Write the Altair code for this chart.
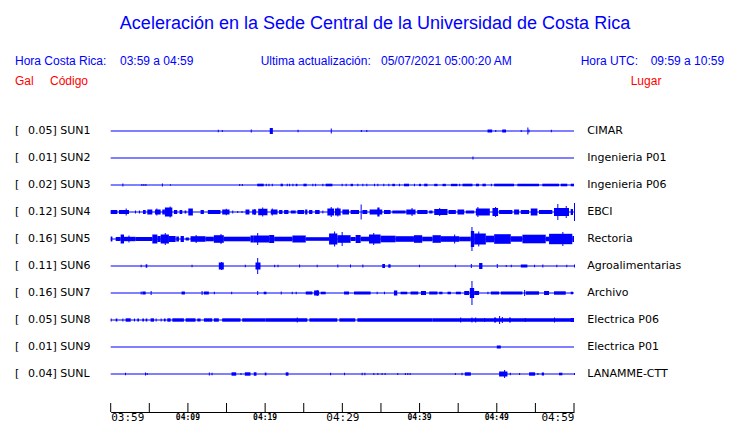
import altair as alt
import pandas as pd

# ---------------- data ----------------
codes = ["SUN1", "SUN2", "SUN3", "SUN4", "SUN5", "SUN6", "SUN7", "SUN8", "SUN9", "SUNL"]
places = ["CIMAR", "Ingenieria P01", "Ingenieria P06", "EBCI", "Rectoria",
          "Agroalimentarias", "Archivo", "Electrica P06", "Electrica P01", "LANAMME-CTT"]
peak_gal = ["0.05", "0.01", "0.02", "0.12", "0.16", "0.11", "0.16", "0.05", "0.01", "0.04"]

tick_minutes = [0, 5, 10, 15, 20, 25, 30, 35, 40, 45, 50, 55, 60]
tick_labels = ["03:59", "", "04:09", "", "04:19", "", "04:29", "", "04:39", "", "04:49", "", "04:59"]

# envelope segments: (start minute, end minute, half amplitude in px)
sun1 = [(13.87, 13.87, 1.2), (14.39, 14.39, 1.0), (18.14, 18.14, 1.5), (20.6, 21.0, 3.0),
        (24.2, 24.2, 1.2), (28.5, 28.5, 2.5), (32.4, 32.4, 1.0), (33.1, 33.1, 1.0),
        (48.8, 49.4, 1.5), (49.8, 49.8, 1.0), (50.7, 51.2, 1.5), (53.1, 53.1, 1.0),
        (53.96, 53.96, 3.6), (54.1, 54.1, 1.5), (57.0, 57.0, 1.2)]
sun2 = [(46.85, 46.85, 1.5)]
sun3 = [(1.51, 1.51, 1.5), (3.97, 3.97, 1.0), (4.23, 4.23, 1.0), (4.49, 4.49, 1.0), (6.63, 6.63, 1.5),
        (7.67, 7.67, 0.8), (16.64, 16.64, 1.0), (16.98, 16.98, 1.0), (18.97, 19.82, 1.3),
        (20.08, 20.08, 1.2), (20.43, 20.43, 1.2), (20.86, 20.86, 1.2), (22.0, 22.3, 1.3),
        (22.8, 22.8, 1.2), (23.1, 23.1, 1.2), (23.53, 23.53, 1.2), (23.96, 24.18, 1.2),
        (24.96, 25.38, 1.3), (26.12, 26.12, 1.2), (26.47, 26.47, 1.2), (27.41, 27.41, 1.2),
        (27.84, 28.71, 1.3), (29.91, 29.91, 1.2), (30.43, 30.43, 1.2), (31.07, 31.38, 1.2),
        (31.94, 31.94, 1.2), (32.59, 32.59, 1.2), (33.10, 33.10, 1.2), (34.10, 34.10, 1.2),
        (34.53, 34.53, 1.2), (35.30, 35.30, 1.2), (35.95, 35.95, 1.2), (36.47, 36.81, 1.2),
        (37.33, 37.33, 1.2), (37.98, 38.63, 1.3), (39.27, 39.27, 1.2), (39.92, 40.18, 1.2),
        (40.60, 41.03, 1.3), (41.90, 42.32, 1.2), (42.97, 43.41, 1.2), (44.06, 44.91, 1.2),
        (45.13, 45.13, 1.2), (45.56, 46.85, 1.3), (47.29, 47.71, 1.3), (48.14, 48.58, 1.3),
        (49.23, 49.23, 1.2), (49.66, 52.24, 1.3), (52.67, 55.47, 1.3), (55.90, 58.06, 1.3),
        (58.28, 59.13, 1.3), (59.57, 60.0, 1.3)]
sun4 = [(0, 0.86, 2), (1.07, 2.37, 2), (1.94, 1.94, 3.5), (3.14, 3.14, 1.5), (3.66, 3.66, 1.5),
        (4.18, 4.53, 2), (4.74, 5.39, 2.5), (5.73, 6.47, 2.5), (5.91, 5.91, 3.5), (6.68, 7.02, 2.5),
        (7.02, 7.98, 4.5), (7.63, 7.63, 5.5), (8.19, 8.62, 2), (8.92, 9.27, 2), (9.57, 9.79, 1.5),
        (10.05, 10.64, 3.5), (11.64, 12.07, 2), (12.58, 14.22, 2), (14.44, 15.39, 2.5),
        (14.9, 14.9, 3.2), (15.74, 15.74, 1.5), (16.38, 16.38, 1), (16.94, 16.94, 1),
        (17.46, 17.97, 2.5), (18.32, 18.84, 2.5), (18.6, 18.6, 3), (19.10, 20.30, 3.2),
        (19.62, 19.62, 4.5), (20.73, 21.60, 2.5), (20.86, 20.86, 3.5), (21.81, 22.24, 2),
        (22.46, 23.02, 2), (23.32, 23.96, 1.5), (24.18, 25.05, 2), (25.18, 25.47, 2.5),
        (25.69, 26.12, 2), (26.47, 27.06, 2), (27.41, 27.41, 1.5), (28.06, 28.93, 3.5),
        (28.49, 28.49, 5), (29.05, 29.78, 3.5), (29.35, 29.35, 4.5), (30.0, 30.86, 2.5),
        (31.07, 32.16, 2), (32.37, 32.37, 7.5), (32.59, 33.23, 2), (33.53, 35.17, 2.5),
        (34.53, 34.82, 4.5), (35.39, 36.25, 2), (36.47, 38.19, 1.5), (38.28, 39.48, 2.5),
        (38.96, 38.96, 4), (39.70, 41.03, 2), (41.25, 41.68, 1.5), (41.90, 43.62, 3),
        (42.54, 42.54, 4), (43.75, 44.70, 2), (44.91, 45.78, 2.5), (46.0, 47.07, 1.5),
        (47.29, 49.10, 3.5), (47.49, 47.49, 5), (49.44, 50.17, 4), (49.78, 49.78, 5),
        (50.30, 52.02, 2), (52.24, 52.89, 2.5), (53.11, 54.18, 2), (54.40, 55.26, 3.5),
        (55.47, 57.19, 2), (57.41, 59.35, 4), (57.84, 57.84, 8), (58.93, 58.93, 6),
        (59.57, 59.87, 3), (60, 60, 9)]
sun5 = [(0, 0.22, 2.5), (0.65, 1.29, 2), (1.29, 1.72, 4.5), (1.72, 3.23, 2.2), (2.3, 2.3, 3.5),
        (3.23, 5.39, 2.0), (5.39, 6.04, 4.5), (6.04, 6.47, 3), (6.47, 7.54, 4.5), (7.0, 7.0, 6),
        (7.54, 8.41, 3), (8.49, 8.84, 2.5), (9.05, 9.48, 3), (9.70, 10.13, 1.5), (10.34, 12.28, 2.8),
        (11.0, 11.0, 4), (12.28, 13.36, 2.3), (13.36, 14.65, 3.8), (14.22, 14.22, 5),
        (14.65, 18.10, 2.3), (18.10, 18.53, 3.5), (18.97, 18.97, 6), (18.53, 20.52, 3.5),
        (20.52, 21.17, 4), (21.17, 23.53, 2.3), (23.53, 25.26, 3.5), (25.26, 28.28, 1.8),
        (28.28, 29.35, 5.5), (28.93, 28.93, 7.5), (29.35, 31.07, 3.8), (29.91, 29.91, 7),
        (31.07, 31.72, 2), (31.72, 32.37, 4), (32.37, 33.45, 2.3), (33.45, 34.95, 4.5),
        (34.0, 34.0, 6), (34.95, 36.89, 3.3), (36.89, 39.27, 2.8), (39.27, 40.34, 3.8),
        (40.34, 41.68, 2.3), (41.68, 42.76, 3.8), (42.76, 45.13, 2.8), (44.48, 44.48, 4.5),
        (45.13, 46.64, 2.3), (46.64, 47.07, 8), (46.72, 46.72, 12), (47.07, 48.58, 5.5),
        (47.6, 47.6, 7.5), (48.58, 49.66, 3.3), (49.66, 51.81, 4.8), (51.81, 53.32, 2.8),
        (53.32, 56.34, 4.3), (56.34, 56.77, 2.3), (56.77, 59.78, 5.2), (58.49, 58.49, 7),
        (59.78, 60, 3)]
sun6 = [(3.88, 3.88, 1.3), (4.53, 4.74, 1.7), (10.47, 10.47, 1.3), (14.0, 14.65, 3.5),
        (14.3, 14.3, 4), (17.37, 17.37, 1.3), (18.75, 19.40, 3.5), (18.97, 18.97, 8),
        (21.17, 21.17, 1.3), (21.60, 21.60, 1.3), (24.40, 24.40, 1.5), (26.68, 26.68, 1.3),
        (29.35, 29.35, 1.5), (30.99, 30.99, 1.5), (32.59, 32.59, 1.5), (35.17, 35.52, 2),
        (35.95, 36.25, 1.7), (39.92, 39.92, 1.3), (44.57, 44.57, 1.3), (46.64, 46.64, 2),
        (47.71, 48.14, 3), (50.0, 50.0, 2), (51.16, 51.16, 1), (51.81, 51.81, 1.3),
        (53.11, 53.96, 1.5), (54.83, 54.83, 1.3), (55.90, 55.90, 1.5), (57.71, 57.71, 1.3),
        (59.0, 59.0, 1.3), (60, 60, 1.5)]
sun7 = [(3.88, 3.88, 1.5), (4.10, 4.53, 1.5), (5.17, 5.17, 2), (9.18, 9.61, 1.5), (11.77, 11.77, 2),
        (12.07, 12.71, 1.5), (13.36, 13.36, 1.3), (15.60, 15.60, 1.3), (18.97, 18.97, 2),
        (19.82, 20.17, 1.3), (22.02, 22.02, 1.5), (23.45, 23.45, 1.3), (23.96, 23.96, 1.3),
        (25.26, 26.12, 1.5), (26.34, 26.99, 2.5), (26.68, 26.68, 3), (27.20, 27.84, 1.3),
        (30.22, 30.86, 1.5), (31.51, 33.66, 1.5), (34.44, 34.44, 1.3), (35.39, 35.39, 1.3),
        (36.68, 37.11, 2.5), (37.54, 38.41, 1.3), (38.83, 39.83, 1.5), (40.18, 40.83, 2),
        (41.25, 42.32, 1.5), (42.54, 42.97, 1.3), (43.62, 44.06, 1.3), (44.70, 45.35, 1.3),
        (45.78, 46.42, 2), (46.51, 47.07, 5), (46.72, 46.72, 12), (47.07, 47.71, 2),
        (48.79, 48.79, 1.3), (49.23, 50.30, 1.5), (50.52, 53.32, 1.5), (53.54, 53.54, 3),
        (53.75, 55.47, 1.7), (56.12, 56.77, 2), (57.41, 58.93, 1.7), (59.57, 59.87, 1.3)]
sun8 = [(0, 0, 1.5), (0.65, 0.86, 1.5), (1.51, 1.51, 1.5), (1.94, 2.59, 1.7), (3.01, 3.01, 1.5),
        (3.45, 3.66, 1.5), (4.10, 4.31, 1.5), (4.53, 4.74, 1.5), (5.17, 5.60, 1.7), (5.82, 5.82, 1.5),
        (6.47, 6.47, 1.5), (6.89, 7.11, 1.5), (7.33, 7.76, 1.7), (7.98, 9.48, 1.7), (9.70, 10.99, 1.7),
        (11.21, 11.64, 1.5), (12.07, 13.15, 1.7), (13.36, 14.0, 1.7), (14.44, 16.81, 1.7),
        (17.03, 20.04, 1.7), (20.04, 25.47, 1.7), (24.09, 24.09, 2.5), (25.73, 29.35, 1.7),
        (29.61, 31.68, 1.7), (31.94, 41.68, 1.7), (41.68, 60, 1.7), (45.26, 45.26, 2.5),
        (46.72, 46.72, 2.5), (47.20, 47.20, 2.5), (48.36, 48.36, 2), (49.66, 49.92, 2.5),
        (50.30, 50.30, 4), (50.65, 50.65, 3), (51.60, 51.81, 2.5), (53.62, 53.62, 2),
        (57.41, 57.41, 2.5), (59.57, 60, 2)]
sun9 = [(50.0, 50.52, 1.5)]
sunl = [(1.85, 1.85, 1.3), (4.44, 4.44, 1.5), (4.66, 4.66, 1.0), (12.71, 12.71, 1.5),
        (13.06, 13.06, 1.3), (15.65, 16.25, 1.7), (16.81, 16.81, 1.0), (17.37, 18.10, 1.7),
        (18.53, 18.88, 1.7), (19.95, 20.17, 1.4), (22.67, 23.02, 1.7), (28.41, 28.41, 1.3),
        (30.22, 30.22, 1.3), (32.50, 32.50, 1.3), (32.85, 32.85, 1.3), (34.01, 34.01, 1.0),
        (34.53, 34.53, 1.0), (35.08, 35.08, 1.0), (35.47, 35.47, 1.0), (37.11, 37.11, 1.0),
        (38.10, 38.10, 1.0), (38.41, 38.41, 1.0), (38.71, 38.71, 1.0), (44.57, 44.57, 1.0),
        (45.43, 45.43, 1.3), (45.86, 46.64, 1.7), (50.30, 51.38, 2.5), (50.95, 50.95, 4),
        (51.69, 51.69, 1.3), (52.89, 52.89, 1.0), (54.18, 54.96, 1.7), (55.26, 55.26, 1.0),
        (55.82, 56.12, 1.5), (58.06, 58.49, 1.3), (60, 60, 1.0)]

traces = [sun1, sun2, sun3, sun4, sun5, sun6, sun7, sun8, sun9, sunl]

# ---------------- tables ----------------
ev_rows = []
for r, tr in enumerate(traces):
    for t0, t1, a in tr:
        ev_rows.append({"row": r, "t0": t0, "t1": t1, "amp": a})
events = pd.DataFrame(ev_rows)
stations = pd.DataFrame({"row": list(range(len(codes))), "code": codes, "place": places,
                         "gal": [g + "] " + c for g, c in zip(peak_gal, codes)],
                         "t0": 0, "t1": 60})
ticks = pd.DataFrame({"m": tick_minutes, "lab": tick_labels})
small_ticks = ticks[(ticks["lab"] != "") & (ticks["m"] % 30 != 0)]

BLUE = "#0000ff"
RED = "#ff0000"
ROW_PX = 27.0
PLOT_H = 404

xscale = alt.Scale(domain=[0, 60], range=[102.7, 566], nice=False, zero=False)
yscale = alt.Scale(domain=[0, 9], range=[123, 366], nice=False, zero=False)

# axis: domain line + the three large labels (03:59, 04:29, 04:59)
label_expr = ("datum.value % 30 === 0 ? [" + ",".join("'" + s + "'" for s in tick_labels)
              + "][round(datum.value/5)] : ''")
x_axis = alt.Axis(values=tick_minutes, labelExpr=label_expr, ticks=False, tickSize=0, grid=False,
                  domain=True, domainColor="black", domainWidth=1, title=None,
                  labelOverlap=False, labelPadding=-0.3, labelColor="black",
                  labelFont="DejaVu Sans Mono", labelFontSize=11)

baseline = alt.Chart(stations).mark_rule(color=BLUE, strokeWidth=1.2).encode(
    x=alt.X("t0:Q", scale=xscale, axis=x_axis),
    x2="t1:Q",
    y=alt.Y("row:Q", scale=yscale, axis=None),
)

env = alt.Chart(events).transform_calculate(
    lo=f"datum.row - datum.amp/{ROW_PX}",
    hi=f"datum.row + datum.amp/{ROW_PX}",
    t1w="max(datum.t1, datum.t0 + 0.13)",
).mark_rect(color=BLUE, strokeWidth=0).encode(
    x=alt.X("t0:Q", scale=xscale, axis=x_axis),
    x2="t1w:Q",
    y=alt.Y("lo:Q", scale=yscale, axis=None),
    y2="hi:Q",
)

tick_marks = alt.Chart(ticks).mark_rule(color="black", strokeWidth=1).encode(
    x=alt.X("m:Q", scale=xscale, axis=x_axis),
    y=alt.value(PLOT_H - 9),
    y2=alt.value(PLOT_H),
)

small_labels = alt.Chart(small_ticks).mark_text(
    baseline="top", align="center", font="DejaVu Sans Mono", fontSize=8, fontWeight="bold",
    color="black").encode(
    x=alt.X("m:Q", scale=xscale, axis=x_axis),
    y=alt.value(PLOT_H + 2),
    text="lab:N",
)

lab_font = "DejaVu Sans"
bracket = alt.Chart(stations).mark_text(align="left", baseline="middle", font=lab_font,
                                         fontSize=11, color="black", text="[").encode(
    x=alt.value(7), y=alt.Y("row:Q", scale=yscale, axis=None))
left_lab = alt.Chart(stations).mark_text(align="left", baseline="middle", font=lab_font,
                                          fontSize=11, color="black").encode(
    x=alt.value(20), y=alt.Y("row:Q", scale=yscale, axis=None), text="gal:N")
right_lab = alt.Chart(stations).mark_text(align="left", baseline="middle", font=lab_font,
                                           fontSize=11, color="black").encode(
    x=alt.value(579.3), y=alt.Y("row:Q", scale=yscale, axis=None), text="place:N")


def header(txt, x, y, color=BLUE, size=12, align="left"):
    return alt.Chart(pd.DataFrame({"t": [txt]})).mark_text(
        align=align, baseline="alphabetic", font="Liberation Sans", fontSize=size, color=color
    ).encode(x=alt.value(x), y=alt.value(y), text="t:N")


headers = [
    header("Aceleración en la Sede Central de la Universidad de Costa Rica", 367, 21, size=18, align="center"),
    header("Hora Costa Rica:", 7, 57),
    header("03:59 a 04:59", 112, 57),
    header("Ultima actualización:", 252.7, 57),
    header("05/07/2021 05:00:20 AM", 373, 57),
    header("Hora UTC:", 572.7, 57),
    header("09:59 a 10:59", 642.7, 57),
    header("Gal", 7, 77, color=RED),
    header("Código", 42, 77, color=RED),
    header("Lugar", 622.7, 77, color=RED),
]

chart = alt.layer(baseline, env, tick_marks, small_labels, bracket, left_lab, right_lab,
                  *headers).properties(
    width=724, height=PLOT_H, autosize="none",
    padding={"left": 0, "top": 0, "right": 0, "bottom": 11},
    background="white",
).configure_view(stroke=None)

chart.save("out.html", embed_options={"renderer": "svg", "actions": False})
